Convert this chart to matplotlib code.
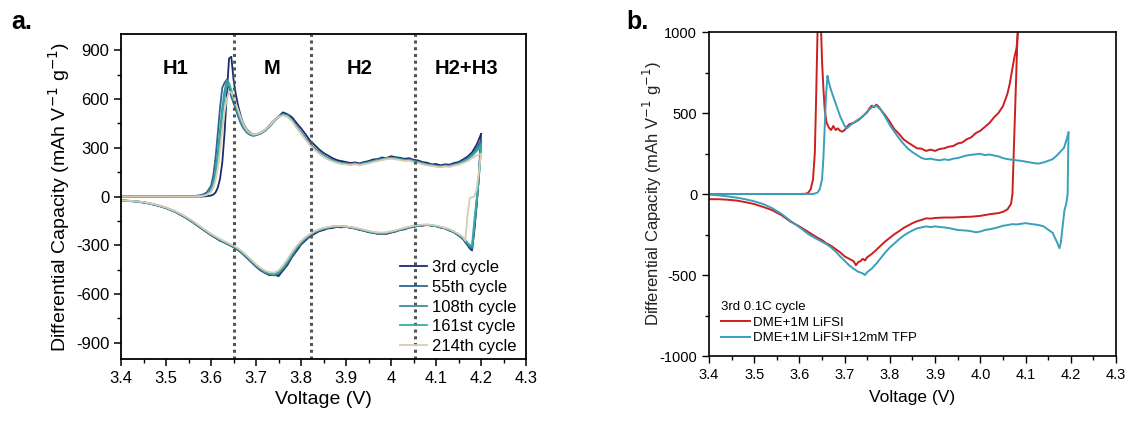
import matplotlib
matplotlib.use("Agg")
import matplotlib.pyplot as plt
from matplotlib.ticker import MultipleLocator

plt.rcParams['font.family'] = ['Liberation Sans', 'DejaVu Sans']
plt.rcParams['axes.unicode_minus'] = False

# ---------------- panel a data : dQ/dV for several cycles ----------------
v_chg = [3.40, 3.50, 3.56, 3.58, 3.59, 3.60, 3.605, 3.61, 3.615, 3.62,
         3.625, 3.63, 3.635, 3.64, 3.645, 3.65, 3.655, 3.66, 3.665, 3.67,
         3.675, 3.68, 3.685, 3.69, 3.695, 3.70, 3.71, 3.72, 3.73, 3.74,
         3.75, 3.76, 3.77, 3.78, 3.79, 3.80, 3.81, 3.82, 3.83, 3.84,
         3.85, 3.86, 3.87, 3.88, 3.89, 3.90, 3.91, 3.92, 3.93, 3.94,
         3.95, 3.96, 3.97, 3.98, 3.99, 4.00, 4.01, 4.02, 4.03, 4.04,
         4.05, 4.06, 4.07, 4.08, 4.09, 4.10, 4.11, 4.12, 4.13, 4.14,
         4.15, 4.16, 4.17, 4.18, 4.19, 4.195, 4.20]

chg_3rd = [0, 0, 0, 0, 2, 6, 12, 25, 55, 110,
           210, 390, 630, 850, 860, 720, 630, 560, 505, 462,
           432, 410, 398, 386, 380, 383, 392, 410, 438, 468,
           492, 518, 506, 488, 452, 420, 383, 344, 318, 290,
           268, 252, 236, 224, 218, 212, 206, 210, 204, 212,
           218, 228, 230, 240, 236, 248, 242, 238, 232, 236,
           226, 222, 212, 208, 198, 200, 192, 198, 196, 206,
           212, 228, 246, 272, 318, 350, 385]
chg_55th = [0, 0, 2, 10, 24, 65, 130, 240, 390, 550,
            670, 700, 720, 670, 615, 575, 535, 495, 458, 428,
            408, 392, 382, 376, 374, 378, 386, 404, 430, 462,
            488, 508, 500, 472, 432, 398, 360, 326, 298, 272,
            252, 236, 224, 215, 206, 204, 200, 205, 198, 207,
            212, 220, 226, 232, 238, 240, 236, 232, 226, 228,
            220, 214, 206, 198, 194, 190, 186, 192, 190, 198,
            205, 220, 236, 260, 295, 320, 345]
chg_108th = [0, 0, 0, 5, 14, 42, 85, 155, 270, 410,
             550, 650, 715, 690, 640, 592, 550, 510, 470, 438,
             414, 398, 386, 378, 375, 378, 388, 406, 434, 464,
             490, 505, 498, 470, 430, 395, 356, 322, 295, 270,
             250, 234, 222, 212, 205, 202, 198, 203, 197, 205,
             210, 218, 224, 230, 236, 238, 235, 230, 225, 226,
             218, 212, 204, 197, 193, 188, 185, 190, 188, 196,
             203, 216, 232, 255, 285, 305, 325]
chg_161st = [0, 0, 0, 4, 11, 35, 70, 128, 230, 360,
             500, 610, 680, 700, 655, 602, 558, 516, 475, 442,
             416, 398, 388, 380, 377, 380, 390, 408, 436, 466,
             492, 504, 496, 468, 428, 392, 354, 320, 292, 268,
             248, 232, 220, 210, 204, 200, 197, 202, 196, 203,
             208, 216, 222, 228, 234, 236, 233, 228, 223, 224,
             216, 210, 202, 195, 191, 186, 183, 188, 186, 194,
             200, 212, 228, 250, 278, 295, 310]
chg_214th = [0, 0, 0, 3, 9, 28, 55, 100, 175, 285,
             410, 520, 600, 645, 640, 612, 574, 534, 494, 458,
             428, 408, 394, 386, 382, 384, 392, 410, 436, 466,
             490, 500, 490, 462, 424, 388, 350, 316, 288, 264,
             244, 228, 216, 207, 200, 197, 194, 198, 193, 199,
             204, 212, 218, 224, 230, 232, 229, 224, 219, 220,
             212, 206, 198, 192, 188, 184, 181, 185, 183, 190,
             196, 206, 218, 236, 252, 258, 262]

v_dis = [3.40, 3.42, 3.44, 3.46, 3.48, 3.50, 3.52, 3.54, 3.56, 3.58,
         3.60, 3.61, 3.62, 3.63, 3.64, 3.65, 3.66, 3.67, 3.68, 3.69,
         3.70, 3.71, 3.72, 3.73, 3.74, 3.75, 3.76, 3.77, 3.78, 3.79,
         3.80, 3.81, 3.82, 3.83, 3.84, 3.85, 3.86, 3.87, 3.88, 3.89,
         3.90, 3.91, 3.92, 3.93, 3.94, 3.95, 3.96, 3.97, 3.98, 3.99,
         4.00, 4.01, 4.02, 4.03, 4.04, 4.05, 4.06, 4.07, 4.08, 4.09,
         4.10, 4.11, 4.12, 4.13, 4.14, 4.15, 4.16, 4.165, 4.17, 4.175,
         4.18, 4.185, 4.19, 4.195, 4.20]

dis_3rd = [-25, -28, -33, -42, -55, -72, -95, -125, -160, -200,
           -238, -255, -272, -284, -298, -312, -330, -352, -378, -405,
           -432, -455, -470, -484, -480, -490, -455, -420, -372, -335,
           -296, -270, -244, -230, -214, -206, -196, -194, -186, -190,
           -186, -194, -196, -206, -210, -220, -222, -230, -228, -230,
           -222, -216, -206, -202, -192, -188, -180, -180, -174, -180,
           -182, -192, -196, -210, -220, -240, -262, -282, -300, -320,
           -332, -210, -60, 120, 385]
dis_55th = [-24, -27, -32, -41, -54, -70, -93, -122, -158, -198,
            -236, -252, -268, -282, -296, -310, -326, -350, -376, -402,
            -428, -452, -470, -478, -486, -476, -448, -410, -365, -325,
            -290, -262, -240, -224, -210, -200, -194, -188, -186, -184,
            -188, -190, -198, -202, -212, -216, -224, -226, -230, -226,
            -220, -212, -206, -198, -190, -186, -180, -176, -176, -178,
            -184, -188, -198, -206, -222, -238, -258, -276, -295, -312,
            -322, -200, -50, 120, 345]
dis_108th = [-24, -27, -32, -40, -53, -70, -92, -121, -156, -196,
             -234, -250, -266, -280, -294, -308, -325, -348, -372, -398,
             -425, -448, -466, -476, -482, -470, -440, -402, -358, -318,
             -285, -258, -236, -220, -207, -198, -190, -186, -182, -184,
             -186, -190, -194, -202, -208, -216, -220, -226, -226, -224,
             -218, -212, -204, -196, -190, -184, -178, -176, -174, -178,
             -182, -188, -196, -206, -220, -236, -255, -272, -290, -305,
             -312, -180, -40, 110, 325]
dis_161st = [-24, -27, -31, -40, -52, -69, -91, -120, -155, -195,
             -233, -249, -265, -279, -293, -306, -322, -345, -368, -395,
             -420, -444, -462, -474, -478, -466, -436, -398, -352, -314,
             -282, -255, -234, -218, -206, -196, -190, -185, -182, -183,
             -185, -189, -194, -200, -207, -214, -219, -224, -225, -223,
             -217, -211, -203, -196, -189, -183, -178, -175, -174, -177,
             -181, -187, -195, -204, -218, -233, -252, -268, -285, -298,
             -300, -150, -20, 100, 310]
dis_214th = [-24, -27, -31, -39, -51, -68, -90, -118, -152, -192,
             -230, -246, -262, -276, -290, -303, -318, -340, -364, -392,
             -418, -440, -456, -466, -468, -455, -424, -385, -342, -305,
             -274, -250, -230, -214, -202, -194, -188, -184, -181, -182,
             -184, -188, -192, -198, -205, -212, -217, -221, -222, -220,
             -214, -208, -200, -193, -186, -180, -176, -173, -172, -175,
             -179, -185, -193, -202, -215, -230, -250, -272, -110, -10,
             -5, 0, 40, 150, 262]

cycle_names = ["3rd cycle", "55th cycle", "108th cycle", "161st cycle", "214th cycle"]
cycle_chg = [chg_3rd, chg_55th, chg_108th, chg_161st, chg_214th]
cycle_dis = [dis_3rd, dis_55th, dis_108th, dis_161st, dis_214th]

phase_bounds = [3.652, 3.822, 4.053]
phase_names = ["H1", "M", "H2", "H2+H3"]
phase_x = [3.52, 3.735, 3.93, 4.167]

xticks_a = [3.4, 3.5, 3.6, 3.7, 3.8, 3.9, 4.0, 4.1, 4.2, 4.3]
xticklabels_a = ["3.4", "3.5", "3.6", "3.7", "3.8", "3.9", "4", "4.1", "4.2", "4.3"]
yticks_a = [-900, -600, -300, 0, 300, 600, 900]

# ---------------- panel b data : electrolyte comparison ----------------
v_red_chg = [3.40, 3.50, 3.60, 3.615, 3.62, 3.625, 3.63, 3.634, 3.637, 3.640,
             3.642, 3.646, 3.648, 3.650, 3.653, 3.656, 3.66, 3.665, 3.67, 3.675,
             3.68, 3.685, 3.69, 3.695, 3.70, 3.705, 3.71, 3.72, 3.73, 3.74,
             3.75, 3.755, 3.76, 3.765, 3.77, 3.775, 3.78, 3.79, 3.80, 3.81,
             3.82, 3.83, 3.84, 3.85, 3.86, 3.87, 3.88, 3.89, 3.90, 3.91,
             3.92, 3.93, 3.94, 3.95, 3.96, 3.97, 3.98, 3.99, 4.00, 4.01,
             4.02, 4.03, 4.04, 4.05, 4.06, 4.065, 4.07, 4.075, 4.08, 4.085,
             4.09]
red_chg = [0, 0, 0, 2, 10, 30, 90, 250, 600, 1000,
           1300, 1300, 1000, 820, 650, 520, 440, 410, 395, 420,
           395, 405, 390, 385, 395, 415, 430, 440, 455, 480,
           505, 530, 545, 535, 552, 540, 520, 485, 445, 400,
           372, 338, 318, 300, 282, 280, 266, 274, 266, 278,
           282, 292, 296, 312, 318, 338, 350, 376, 390, 414,
           438, 472, 500, 542, 620, 680, 760, 840, 900, 1050,
           1300]

v_red_dis = [3.40, 3.42, 3.44, 3.46, 3.48, 3.50, 3.52, 3.54, 3.56, 3.58,
             3.60, 3.62, 3.64, 3.65, 3.66, 3.67, 3.68, 3.69, 3.70, 3.71,
             3.72, 3.725, 3.73, 3.735, 3.74, 3.745, 3.75, 3.76, 3.77, 3.78,
             3.79, 3.80, 3.81, 3.82, 3.83, 3.84, 3.85, 3.86, 3.87, 3.88,
             3.89, 3.90, 3.92, 3.94, 3.96, 3.98, 4.00, 4.02, 4.04, 4.05,
             4.06, 4.068, 4.071, 4.083, 4.09]
red_dis = [-32, -32, -35, -40, -50, -62, -80, -100, -130, -170,
           -200, -235, -270, -285, -305, -320, -340, -360, -385, -400,
           -415, -440, -420, -415, -400, -410, -390, -370, -345, -318,
           -292, -270, -248, -230, -210, -195, -180, -168, -160, -150,
           -152, -148, -145, -145, -142, -140, -135, -125, -118, -110,
           -95, -60, 0, 1050, 1300]

v_blue_chg = [3.40, 3.50, 3.60, 3.63, 3.64, 3.645, 3.65, 3.653, 3.656, 3.659,
              3.662, 3.665, 3.67, 3.675, 3.68, 3.685, 3.69, 3.695, 3.70, 3.705,
              3.71, 3.715, 3.72, 3.73, 3.74, 3.75, 3.76, 3.77, 3.78, 3.79,
              3.80, 3.81, 3.82, 3.83, 3.84, 3.85, 3.86, 3.87, 3.88, 3.89,
              3.90, 3.91, 3.92, 3.93, 3.94, 3.95, 3.96, 3.97, 3.98, 3.99,
              4.00, 4.01, 4.02, 4.03, 4.04, 4.05, 4.06, 4.07, 4.08, 4.09,
              4.10, 4.11, 4.12, 4.13, 4.14, 4.15, 4.16, 4.17, 4.18, 4.185,
              4.19, 4.195]
blue_chg = [0, 0, 0, 0, 8, 30, 90, 220, 420, 620,
            730, 690, 640, 600, 560, 520, 480, 450, 420, 405,
            418, 430, 440, 460, 478, 510, 535, 545, 520, 475,
            425, 385, 345, 310, 280, 258, 240, 222, 215, 218,
            212, 208, 214, 210, 218, 222, 230, 238, 242, 245,
            248, 240, 244, 238, 232, 222, 215, 212, 208, 205,
            200, 195, 190, 188, 195, 205, 215, 240, 270, 285,
            330, 380]

v_blue_dis = [3.40, 3.42, 3.44, 3.46, 3.48, 3.50, 3.52, 3.54, 3.56, 3.58,
              3.60, 3.62, 3.64, 3.65, 3.66, 3.67, 3.68, 3.69, 3.70, 3.71,
              3.72, 3.73, 3.74, 3.745, 3.75, 3.76, 3.77, 3.78, 3.79, 3.80,
              3.81, 3.82, 3.83, 3.84, 3.85, 3.86, 3.87, 3.88, 3.89, 3.90,
              3.91, 3.92, 3.93, 3.94, 3.95, 3.96, 3.97, 3.98, 3.99, 4.00,
              4.01, 4.02, 4.03, 4.04, 4.05, 4.06, 4.07, 4.08, 4.09, 4.10,
              4.11, 4.12, 4.13, 4.14, 4.15, 4.16, 4.165, 4.17, 4.175, 4.178,
              4.182, 4.186, 4.19, 4.193, 4.195]
blue_dis = [-4, -8, -14, -22, -32, -45, -62, -88, -122, -165,
            -205, -248, -280, -295, -310, -330, -355, -385, -412, -440,
            -462, -480, -490, -500, -482, -460, -430, -395, -360, -330,
            -305, -280, -258, -240, -225, -212, -206, -200, -204, -200,
            -204, -206, -210, -216, -222, -224, -226, -230, -236, -232,
            -222, -218, -212, -205, -196, -192, -186, -188, -184, -180,
            -184, -188, -192, -200, -220, -240, -270, -300, -335, -300,
            -200, -100, -60, 0, 380]

label_red = "DME+1M LiFSI"
label_blue = "DME+1M LiFSI+12mM TFP"

cycle_colors = ["#1c2c6c", "#2f6690", "#3b8ea2", "#38aca4", "#d8ccb2"]

fig = plt.figure(figsize=(11.25, 4.28), dpi=100)

# ---------------- panel a ----------------
ax = fig.add_axes([0.1076, 0.1612, 0.36, 0.7593])
for name, chg, dis, col in zip(cycle_names, cycle_chg, cycle_dis, cycle_colors):
    ax.plot(v_chg, chg, color=col, lw=1.3, label=name)
    ax.plot(v_dis, dis, color=col, lw=1.3)
for xb in phase_bounds:
    ax.axvline(xb, color="#555555", ls=(0, (1, 1.2)), lw=2.2)
for name, xp in zip(phase_names, phase_x):
    ax.text(xp, 785, name, ha="center", va="center", fontsize=14.5, fontweight="bold")

ax.set_xlim(3.4, 4.3)
ax.set_ylim(-1000, 1000)
ax.set_xticks(xticks_a)
ax.set_xticklabels(xticklabels_a)
ax.set_yticks(yticks_a)
ax.xaxis.set_minor_locator(MultipleLocator(0.05))
ax.yaxis.set_minor_locator(MultipleLocator(150))
ax.tick_params(which="major", direction="out", length=5, width=1.1, labelsize=12)
ax.tick_params(which="minor", direction="out", length=3, width=1.0)
for s in ax.spines.values():
    s.set_linewidth(1.3)
ax.set_xlabel("Voltage (V)", fontsize=14, labelpad=4)
ax.set_ylabel("Differential Capacity (mAh V$^{-1}$ g$^{-1}$)", fontsize=14, labelpad=3)
ax.legend(loc="lower right", bbox_to_anchor=(1.0, -0.015), frameon=False, fontsize=12,
          handlelength=1.6, handletextpad=0.3, labelspacing=0.28, borderaxespad=0.2)
fig.text(0.019, 0.948, "a.", fontsize=18, fontweight="bold", ha="center", va="center")

# ---------------- panel b ----------------
bx = fig.add_axes([0.6302, 0.1682, 0.3618, 0.757])
bx.plot(v_red_chg, red_chg, color="#cc1f1f", lw=1.4, label=label_red)
bx.plot(v_red_dis, red_dis, color="#cc1f1f", lw=1.4)
bx.plot(v_blue_chg, blue_chg, color="#3a9fba", lw=1.4, label=label_blue)
bx.plot(v_blue_dis, blue_dis, color="#3a9fba", lw=1.4)

bx.set_xlim(3.4, 4.3)
bx.set_ylim(-1000, 1000)
bx.xaxis.set_major_locator(MultipleLocator(0.1))
bx.xaxis.set_minor_locator(MultipleLocator(0.05))
bx.yaxis.set_major_locator(MultipleLocator(500))
bx.yaxis.set_minor_locator(MultipleLocator(250))
bx.xaxis.set_major_formatter(matplotlib.ticker.FormatStrFormatter("%.1f"))
bx.tick_params(which="major", direction="out", length=5, width=1.0, labelsize=10.5)
bx.tick_params(which="minor", direction="out", length=3, width=1.0)
for s in bx.spines.values():
    s.set_linewidth(1.2)
bx.set_xlabel("Voltage (V)", fontsize=12.5, labelpad=6)
bx.set_ylabel("Differential Capacity (mAh V$^{-1}$ g$^{-1}$)", fontsize=12, labelpad=-3, color="#222222")
leg = bx.legend(loc="lower left", bbox_to_anchor=(0.0, 0.0), frameon=False, fontsize=9.5,
                title="3rd 0.1C cycle", title_fontsize=9.5, alignment="left",
                handlelength=2.2, handletextpad=0.2, labelspacing=0.25, borderaxespad=0.5)
fig.text(0.567, 0.948, "b.", fontsize=18, fontweight="bold", ha="center", va="center")

fig.savefig("out.png", dpi=100)
